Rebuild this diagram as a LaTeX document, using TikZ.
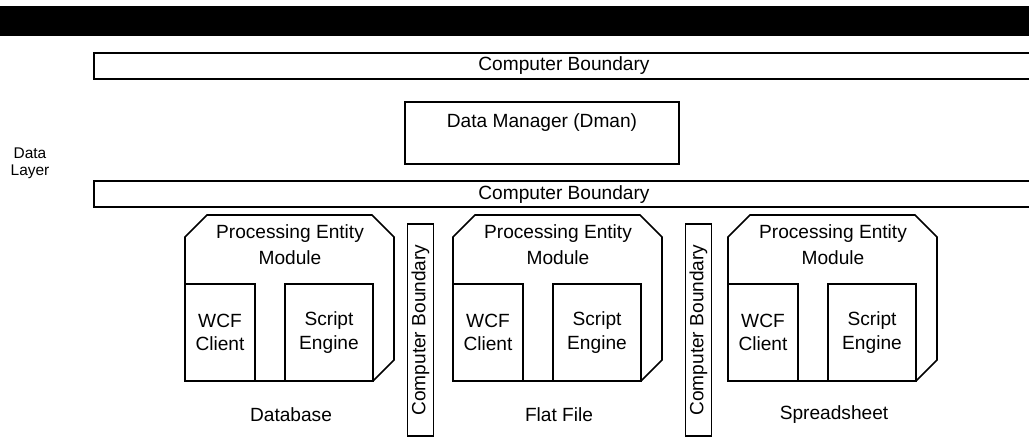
\documentclass[tikz,border=0pt]{standalone}
\usepackage{fontspec}
\setmainfont{Liberation Sans}
\usetikzlibrary{positioning}

\begin{document}
\begin{tikzpicture}[x=0.025cm,y=-0.025cm,line width=1.2pt,
  every node/.style={inner sep=0pt,font=\fontsize{13.6}{16.5}\selectfont},
  box/.style={draw,align=center},
  cbox/.style={box,rotate=90,minimum width=5.3cm,minimum height=0.65cm}]
\useasboundingbox (0,0) rectangle (1029,437);
\fill (0,6) rectangle (1029,36);
\draw (1029,53) -| (94,79) -- (1029,79);
\node (cbtop) at (564,66) {Computer Boundary};
\node[box,minimum width=6.85cm,minimum height=1.55cm] (dman) at (542,133) {};
\node (dmantext) at (542,123) {Data Manager (Dman)};
\node[align=center,font=\fontsize{11}{12}\selectfont] (layer) at (30,163) {Data\\Layer};
\draw (1029,181) -| (94,207) -- (1029,207);
\node (cbmid) at (564,195) {Computer Boundary};
\foreach \px/\nm/\lbl in {0/db/Database, 268/ff/Flat File, 543/ss/Spreadsheet} {
  \draw (185+\px,381) -- (185+\px,237) -- (207+\px,215) -- (372+\px,215)
    -- (394+\px,237) -- (394+\px,360) -- (373+\px,381) -- cycle;
  \node[align=center,font=\fontsize{13.6}{18.5}\selectfont] (pe\nm) at (290+\px,245) {Processing Entity\\Module};
  \node[box,minimum width=1.75cm,minimum height=2.425cm] (wcf\nm) at (220+\px,332.5) {WCF\\Client};
  \node[box,minimum width=2.2cm,minimum height=2.425cm] (se\nm) at (329+\px,332.5) {Script\\Engine};
  \node (lbl\nm) at (291+\px,415) {\lbl};
}
\node[cbox] (cbv1) at (420.5,330) {Computer Boundary};
\node[cbox] (cbv2) at (698.5,330) {Computer Boundary};
\end{tikzpicture}
\end{document}
